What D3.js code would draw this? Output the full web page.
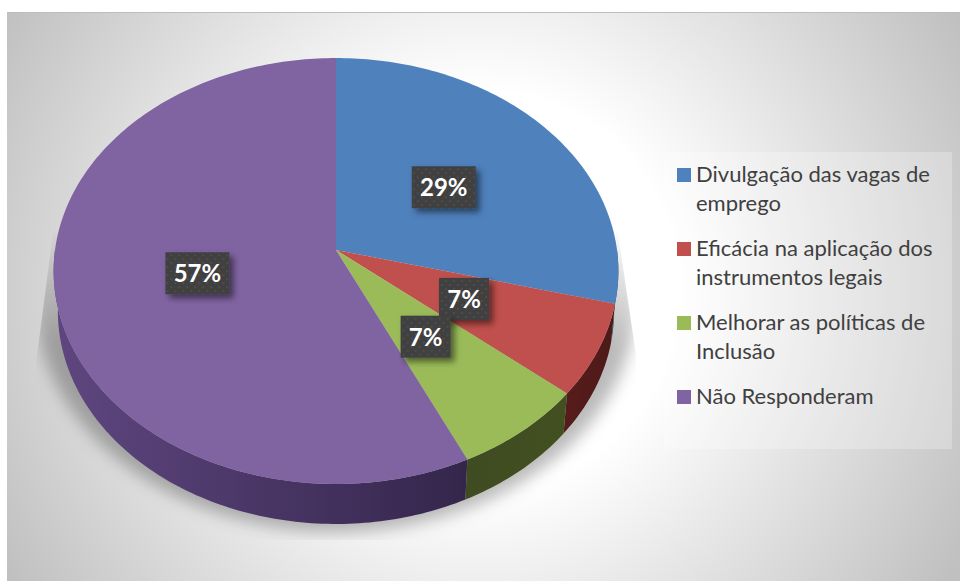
<!DOCTYPE html>
<html lang="pt">
<head>
<meta charset="utf-8">
<title>Gráfico de pizza</title>
<script src="https://cdn.jsdelivr.net/npm/d3@7"></script>
<style>
  html, body { margin: 0; padding: 0; background: #fff; }
  svg { display: block; }
</style>
</head>
<body>
<svg id="chart" width="960" height="581"></svg>
<script>
// Survey shares, in percent
const categories = [
  ["Divulgação das vagas de", "emprego"],
  ["Eficácia na aplicação dos", "instrumentos legais"],
  ["Melhorar as políticas de", "Inclusão"],
  ["Não Responderam"]
];
const percentages = [29, 7, 7, 57];
const faceColors = ["#4f81bd", "#c0504d", "#9bbb59", "#8064a2"];
const wallColorsNear = ["#2f5078", "#6c2022", "#44521f", "#5f4680"];
const wallColorsFar = ["#2f5078", "#4c1a18", "#3e4a22", "#34264b"];

const svg = d3.select("#chart");
const defs = svg.append("defs");

// Panel background: white middle fading to grey corners
const panel = defs.append("radialGradient").attr("id", "panelFill")
  .attr("gradientUnits", "userSpaceOnUse")
  .attr("cx", 480).attr("cy", 290).attr("r", 550);
panel.append("stop").attr("offset", 0).attr("stop-color", "#ffffff");
panel.append("stop").attr("offset", 0.36).attr("stop-color", "#ffffff");
panel.append("stop").attr("offset", 1).attr("stop-color", "#c0c0c0");

svg.append("rect").attr("x", 7).attr("y", 12).attr("width", 953).attr("height", 569)
  .attr("fill", "url(#panelFill)");
svg.append("line").attr("x1", 7).attr("x2", 960).attr("y1", 12.5).attr("y2", 12.5)
  .attr("stroke", "#bdbdbd");

// Tilted disc: a circle seen in perspective, so its centre sits above the ellipse's middle
const disc = { cx: 336, cy: 250, rx: 281, ry: 210.9, k: 0.0986, depth: 40, wallScale: 0.985 };

function project(angle, rho, scaleX = 1, dropY = 0) {
  const X = rho * Math.sin(angle), Y = -rho * Math.cos(angle);
  const w = 1 - disc.k * Y;
  return [disc.cx + scaleX * disc.rx * X / w, disc.cy + dropY + disc.ry * Y / w];
}

const pie = d3.pie().sort(null).value(d => d);
const slices = pie(percentages);
const line = d3.line();
const ARC_STEP = Math.PI / 180;

function sampleAngles(a0, a1) {
  const n = Math.max(2, Math.ceil((a1 - a0) / ARC_STEP) + 1);
  return d3.range(n).map(i => a0 + (a1 - a0) * i / (n - 1));
}

// Soft ground shadow that fades in downwards and is cut off by a flared outline
const blur = defs.append("filter").attr("id", "groundBlur")
  .attr("x", "-20%").attr("y", "-20%").attr("width", "140%").attr("height", "140%");
blur.append("feGaussianBlur").attr("stdDeviation", 8);
defs.append("clipPath").attr("id", "shadowClip").append("polygon")
  .attr("points", "53,233 36,363 36,540 636,540 636,355 618,233");
const shadowFade = defs.append("linearGradient").attr("id", "shadowFade")
  .attr("gradientUnits", "userSpaceOnUse")
  .attr("x1", 0).attr("x2", 0).attr("y1", 225).attr("y2", 345);
shadowFade.append("stop").attr("offset", 0).attr("stop-color", "#000").attr("stop-opacity", 0);
shadowFade.append("stop").attr("offset", 1).attr("stop-color", "#000").attr("stop-opacity", 0.27);

svg.append("g").attr("clip-path", "url(#shadowClip)")
  .append("ellipse")
  .attr("cx", 336).attr("cy", 300).attr("rx", 300).attr("ry", 232)
  .attr("fill", "url(#shadowFade)")
  .attr("filter", "url(#groundBlur)");

// Side wall, front half of the disc only
slices.forEach((s, i) => {
  const g = defs.append("linearGradient").attr("id", `wall${i}`)
    .attr("gradientUnits", "userSpaceOnUse")
    .attr("x1", i === 3 ? 53 : 620).attr("x2", i === 3 ? 468 : 440)
    .attr("y1", 0).attr("y2", 0);
  g.append("stop").attr("offset", 0).attr("stop-color", i === 1 ? wallColorsFar[i] : wallColorsNear[i]);
  g.append("stop").attr("offset", 1).attr("stop-color", i === 1 ? wallColorsNear[i] : wallColorsFar[i]);
});

svg.append("g").selectAll("path").data(slices).join("path")
  .attr("fill", (d, i) => `url(#wall${i})`)
  .attr("d", d => {
    const a0 = Math.max(d.startAngle, Math.PI / 2);
    const a1 = Math.min(d.endAngle, Math.PI * 1.5);
    const angles = sampleAngles(a0, a1);
    const top = angles.map(a => project(a, 1));
    const bottom = angles.map(a => project(a, 1, disc.wallScale, disc.depth)).reverse();
    return line(top.concat(bottom)) + "Z";
  });

// Top face
svg.append("g").selectAll("path").data(slices).join("path")
  .attr("fill", (d, i) => faceColors[i])
  .attr("d", d => {
    const rim = sampleAngles(d.startAngle, d.endAngle).map(a => project(a, 1));
    return line([project(0, 0), ...rim]) + "Z";
  });

// Data labels
const dots = defs.append("pattern").attr("id", "labelDots")
  .attr("patternUnits", "userSpaceOnUse").attr("width", 8).attr("height", 8);
dots.append("rect").attr("width", 8).attr("height", 8).attr("fill", "#3f3f3f");
dots.append("circle").attr("cx", 2).attr("cy", 2).attr("r", 0.9).attr("fill", "#545454");
dots.append("circle").attr("cx", 6).attr("cy", 6).attr("r", 0.9).attr("fill", "#545454");

const drop = defs.append("filter").attr("id", "labelShadow")
  .attr("x", "-30%").attr("y", "-30%").attr("width", "170%").attr("height", "170%");
drop.append("feDropShadow").attr("dx", 4).attr("dy", 4).attr("stdDeviation", 3)
  .attr("flood-color", "#000").attr("flood-opacity", 0.5);

const labels = svg.append("g").selectAll("g").data(slices).join("g")
  .attr("transform", d => `translate(${project((d.startAngle + d.endAngle) / 2, 0.5)})`);
labels.append("rect")
  .attr("x", d => d.value >= 10 ? -32 : -25)
  .attr("width", d => d.value >= 10 ? 64 : 50)
  .attr("y", -21).attr("height", 42)
  .attr("fill", "url(#labelDots)")
  .attr("filter", "url(#labelShadow)");
labels.append("text")
  .attr("text-anchor", "middle").attr("y", 9)
  .attr("font-family", "Lato, sans-serif").attr("font-weight", 700).attr("font-size", 24)
  .attr("fill", "#fff")
  .text(d => `${d.value}%`);

// Legend
svg.append("rect").attr("x", 664).attr("y", 152).attr("width", 288).attr("height", 297)
  .attr("fill", "#fff").attr("fill-opacity", 0.25);

const rowY = d3.scalePoint().domain(d3.range(categories.length)).range([168, 390]);
const legend = svg.append("g").selectAll("g").data(categories).join("g")
  .attr("transform", (d, i) => `translate(677,${rowY(i)})`);
legend.append("rect").attr("width", 14).attr("height", 14)
  .attr("fill", (d, i) => faceColors[i]);
legend.append("g").selectAll("text").data(d => d).join("text")
  .attr("x", 19).attr("y", (d, i) => 14 + i * 29)
  .attr("font-family", "Lato, sans-serif").attr("font-size", 22)
  .attr("fill", "#404040")
  .text(d => d);
</script>
</body>
</html>
